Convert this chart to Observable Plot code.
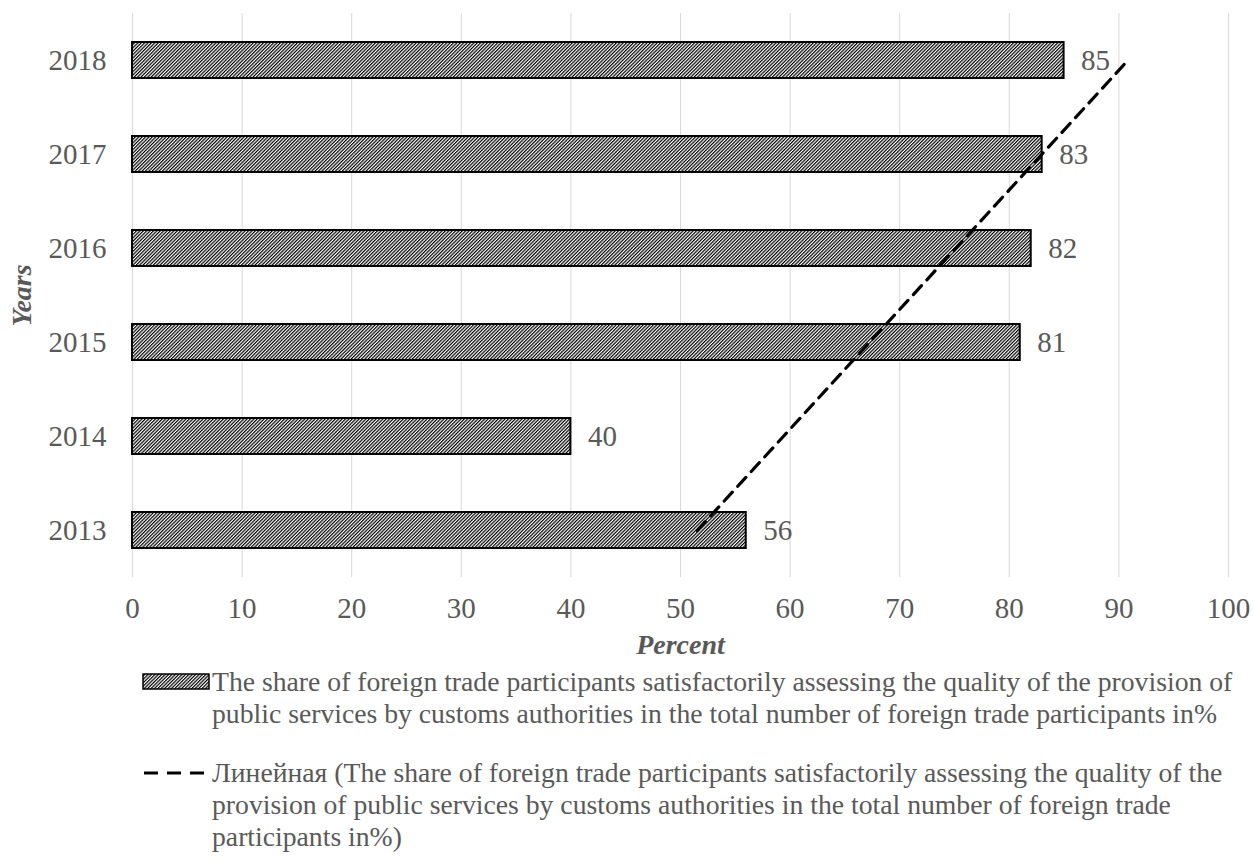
<!DOCTYPE html>
<html>
<head>
<meta charset="utf-8">
<script src="https://cdn.jsdelivr.net/npm/d3@7"></script>
<script src="https://cdn.jsdelivr.net/npm/@observablehq/plot@0.6"></script>
<style>
  html, body { margin: 0; padding: 0; background: #fff; }
  body { width: 1253px; height: 863px; overflow: hidden; font-family: "Liberation Serif", "Times New Roman", serif; }
  #chart svg, #chart svg text { font-family: "Liberation Serif", "Times New Roman", serif !important; }
  #legend { position: relative; color: #595959; font-size: 27.7px; line-height: 32px; margin-top: 1px; }
  .item { display: flex; align-items: flex-start; }
  .swatch { width: 212px; flex: none; display: flex; justify-content: flex-end; padding-right: 2px; box-sizing: border-box; height: 32px; align-items: center; }
  .item2 { margin-top: 27px; }
</style>
</head>
<body>
<svg width="0" height="0" style="position:absolute">
  <defs>
    <pattern id="hatch" patternUnits="userSpaceOnUse" width="2.4" height="2.4" patternTransform="rotate(45)">
      <rect width="2.4" height="2.4" fill="#fff"/>
      <line x1="0.6" y1="0" x2="0.6" y2="2.4" stroke="#000" stroke-width="1.2"/>
    </pattern>
  </defs>
</svg>
<div id="chart"></div>
<div id="legend"></div>
<script>
const years = ["2013", "2014", "2015", "2016", "2017", "2018"];
const values = [56, 40, 81, 82, 83, 85];
const xTicks = [0, 10, 20, 30, 40, 50, 60, 70, 80, 90, 100];
const legendLines1 = [
  "The share of foreign trade participants satisfactorily assessing the quality of the provision of",
  "public services by customs authorities in the total number of foreign trade participants in%"
];
const legendLines2 = [
  "Линейная (The share of foreign trade participants satisfactorily assessing the quality of the",
  "provision of public services by customs authorities in the total number of foreign trade",
  "participants in%)"
];

const data = years.map((y, i) => ({year: y, value: values[i], idx: i + 1}));

// Linear (least squares) trend line over category index, as Excel's "Линейная" trendline
const mx = d3.mean(data, d => d.idx), my = d3.mean(data, d => d.value);
const slope = d3.sum(data, d => (d.idx - mx) * (d.value - my)) / d3.sum(data, d => (d.idx - mx) ** 2);
const intercept = my - slope * mx;
const trend = data.map(d => ({year: d.year, value: intercept + slope * d.idx}));

const font = "'Liberation Serif', 'Times New Roman', serif";
const grey = "#595959";

const chart = Plot.plot({
  width: 1253,
  height: 665,
  marginLeft: 132,
  marginRight: 25,
  marginTop: 13,
  marginBottom: 88,
  style: {fontFamily: font, background: "#fff", overflow: "visible"},
  x: {domain: [0, 100]},
  y: {domain: years.slice().reverse(), paddingInner: 0.62, paddingOuter: 0.31},
  marks: [
    Plot.gridX(xTicks, {stroke: "#d9d9d9", strokeOpacity: 1, strokeWidth: 1}),
    Plot.axisX({ticks: xTicks, tickSize: 0, tickPadding: 20, fontSize: 29, fill: grey, label: null}),
    Plot.axisY({tickSize: 0, tickPadding: 26, fontSize: 29, fill: grey, label: null}),
    Plot.barX(data, {x: "value", y: "year", fill: "url(#hatch)", stroke: "#000", strokeWidth: 2}),
    Plot.text(data, {x: "value", y: "year", text: d => String(d.value), textAnchor: "start", dx: 17, fontSize: 29, fill: grey}),
    Plot.line(trend, {x: "value", y: "year", stroke: "#000", strokeWidth: 3.2, strokeDasharray: "12,8"}),
    Plot.text(["Percent"], {frameAnchor: "bottom", textAnchor: "middle", lineAnchor: "middle", dy: 68, text: d => d, fontSize: 28, fontWeight: "bold", fontStyle: "italic", fill: grey}),
    Plot.text(["Years"], {frameAnchor: "left", textAnchor: "middle", lineAnchor: "middle", dx: -110, rotate: -90, text: d => d, fontSize: 28, fontWeight: "bold", fontStyle: "italic", fill: grey})
  ]
});
document.getElementById("chart").appendChild(chart);

const legend = document.getElementById("legend");
function addItem(lines, kind, cls) {
  const item = document.createElement("div");
  item.className = "item " + (cls || "");
  const sw = document.createElement("div");
  sw.className = "swatch";
  const ns = "http://www.w3.org/2000/svg";
  const s = document.createElementNS(ns, "svg");
  s.setAttribute("width", "68");
  s.setAttribute("height", "18");
  if (kind === "bar") {
    const r = document.createElementNS(ns, "rect");
    r.setAttribute("x", "1"); r.setAttribute("y", "1");
    r.setAttribute("width", "66"); r.setAttribute("height", "15");
    r.setAttribute("fill", "url(#hatch)"); r.setAttribute("stroke", "#000"); r.setAttribute("stroke-width", "1.5");
    s.appendChild(r);
  } else {
    const l = document.createElementNS(ns, "line");
    l.setAttribute("x1", "2"); l.setAttribute("x2", "68");
    l.setAttribute("y1", "9"); l.setAttribute("y2", "9");
    l.setAttribute("stroke", "#000"); l.setAttribute("stroke-width", "3.2");
    l.setAttribute("stroke-dasharray", "14,9");
    s.appendChild(l);
  }
  sw.appendChild(s);
  const txt = document.createElement("div");
  lines.forEach(t => {
    const d = document.createElement("div");
    d.textContent = t;
    d.style.whiteSpace = "nowrap";
    txt.appendChild(d);
  });
  item.appendChild(sw);
  item.appendChild(txt);
  legend.appendChild(item);
}
addItem(legendLines1, "bar");
addItem(legendLines2, "line", "item2");
</script>
</body>
</html>
